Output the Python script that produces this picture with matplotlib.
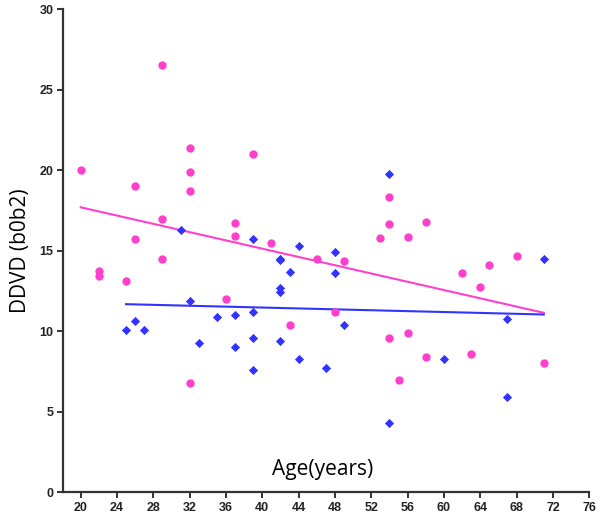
import matplotlib
matplotlib.use("Agg")
from matplotlib import pyplot as plt
import numpy as np

plt.rcParams["font.family"] = ["Liberation Sans", "DejaVu Sans"]

# pink group (circles)
pink_age = [20, 22, 22, 25, 26, 26, 29, 29, 29, 32, 32, 32, 32, 36, 37, 37, 39,
            41, 43, 46, 48, 49, 53, 54, 54, 54, 55, 56, 56, 58, 58, 62, 63, 64,
            65, 68, 71]
pink_val = [20.0, 13.75, 13.4, 13.1, 19.0, 15.7, 26.55, 16.95, 14.5, 21.4, 19.9,
            18.7, 6.75, 12.0, 16.7, 15.9, 21.0, 15.45, 10.4, 14.5, 11.2, 14.35,
            15.8, 18.35, 16.65, 9.6, 6.95, 15.85, 9.9, 16.8, 8.4, 13.6, 8.6,
            12.75, 14.1, 14.65, 8.0]

# blue group (diamonds)
blue_age = [25, 26, 27, 31, 32, 33, 35, 37, 37, 39, 39, 39, 39, 42, 42, 42, 42,
            42, 43, 44, 44, 47, 48, 48, 49, 54, 54, 60, 67, 67, 71]
blue_val = [10.1, 10.65, 10.05, 16.3, 11.9, 9.25, 10.85, 11.0, 9.0, 15.7, 11.2,
            9.6, 7.6, 14.5, 14.4, 12.7, 12.45, 9.4, 13.7, 15.3, 8.25, 7.7, 14.9,
            13.6, 10.4, 19.75, 4.3, 8.3, 10.75, 5.9, 14.5]

x_ticks = list(range(20, 77, 4))
y_ticks = list(range(0, 31, 5))

pink = "#ff40cc"
blue = "#3333ff"

fig = plt.figure(figsize=(6, 5.15), dpi=100)
ax = fig.add_axes([0.105, 0.0445, 0.877, 0.9375])

ax.scatter(pink_age, pink_val, s=36, color=pink, marker="o", linewidths=0, zorder=3)
ax.scatter(blue_age, blue_val, s=22, color=blue, marker="D", linewidths=0, zorder=3)

# least-squares lines over each group's age range
for ages, vals, c in [(pink_age, pink_val, pink), (blue_age, blue_val, blue)]:
    k, b = np.polyfit(ages, vals, 1)
    xs = np.array([min(ages), max(ages)])
    ax.plot(xs, k * xs + b, color=c, linewidth=1.5, zorder=2)

ax.set_xlim(18.05, 76)
ax.set_ylim(0, 30)
ax.set_xticks(x_ticks)
ax.set_yticks(y_ticks)
ax.spines["top"].set_visible(False)
ax.spines["right"].set_visible(False)
for s in ["left", "bottom"]:
    ax.spines[s].set_linewidth(1.6)
    ax.spines[s].set_color("#333333")
ax.tick_params(direction="out", length=4, width=1.4, color="#333333",
               labelsize=9, pad=3)
for lab in ax.get_xticklabels() + ax.get_yticklabels():
    lab.set_fontweight("bold")
    lab.set_color("#222222")

ax.set_ylabel("DDVD (b0b2)", fontsize=15, family=["Open Sans", "DejaVu Sans"],
              labelpad=6)
ax.text(46.6, 1.4, "Age(years)", fontsize=15, family=["Open Sans", "DejaVu Sans"],
        ha="center", va="center")

fig.savefig("out.png", dpi=100)
